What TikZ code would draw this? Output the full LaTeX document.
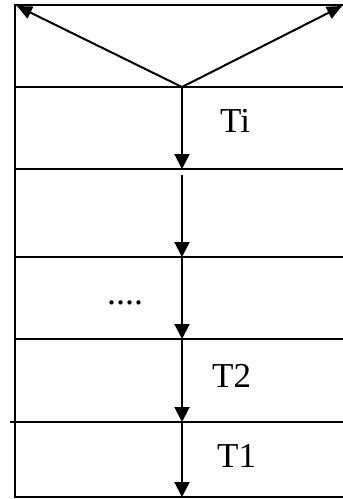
\documentclass[tikz,border=0pt]{standalone}
\usepackage{fontspec}
\setmainfont{Liberation Serif}
\usetikzlibrary{arrows.meta}
\begin{document}
\begin{tikzpicture}[x=1pt,y=-1pt,
  rule/.style={line width=2pt,line cap=rect},
  flow/.style={line width=2pt,-{Triangle[width=15pt,length=15pt]}},
  spread/.style={line width=2pt,-{Triangle[width=13pt,length=15pt]}},
  lbl/.style={font=\fontsize{35}{38}\selectfont,inner sep=0pt,anchor=base west}]
\useasboundingbox (0,0) rectangle (343,499);
% frame
\coordinate (tl) at (15,5);
\coordinate (tr) at (343,5);
\coordinate (bl) at (15,497);
\coordinate (br) at (343,497);
\draw[rule] (tr) -- (tl) -- (bl) -- (br);
\coordinate (h1l) at (15,87);  \coordinate (h1r) at (343,87);
\coordinate (h2l) at (15,169); \coordinate (h2r) at (343,169);
\coordinate (h3l) at (15,257); \coordinate (h3r) at (343,257);
\coordinate (h4l) at (15,339); \coordinate (h4r) at (343,339);
\coordinate (h5l) at (11,422); \coordinate (h5r) at (343,422);
\foreach \i in {1,...,5} \draw[rule] (h\i l) -- (h\i r);
% arrows
\coordinate (v) at (182,87);
\coordinate (lt) at (17,6);
\coordinate (rt) at (342,6);
\draw[spread] (v) -- (lt);
\draw[spread] (v) -- (rt);
\coordinate (a1) at (182,169);
\coordinate (b2) at (182,175);
\coordinate (a2) at (182,257);
\coordinate (a3) at (182,339);
\coordinate (a4) at (182,422);
\coordinate (a5) at (182,497);
\draw[flow] (v) -- (a1);
\draw[flow] (b2) -- (a2);
\draw[flow] (a2) -- (a3);
\draw[flow] (a3) -- (a4);
\draw[flow] (a4) -- (a5);
% labels
\node[lbl] (ti) at (220,132) {Ti};
\node[lbl,font=\fontsize{36}{38}\selectfont] (dots) at (107,304) {....};
\node[lbl] (t2) at (212,387) {T2};
\node[lbl] (t1) at (217,467) {T1};
\end{tikzpicture}
\end{document}
